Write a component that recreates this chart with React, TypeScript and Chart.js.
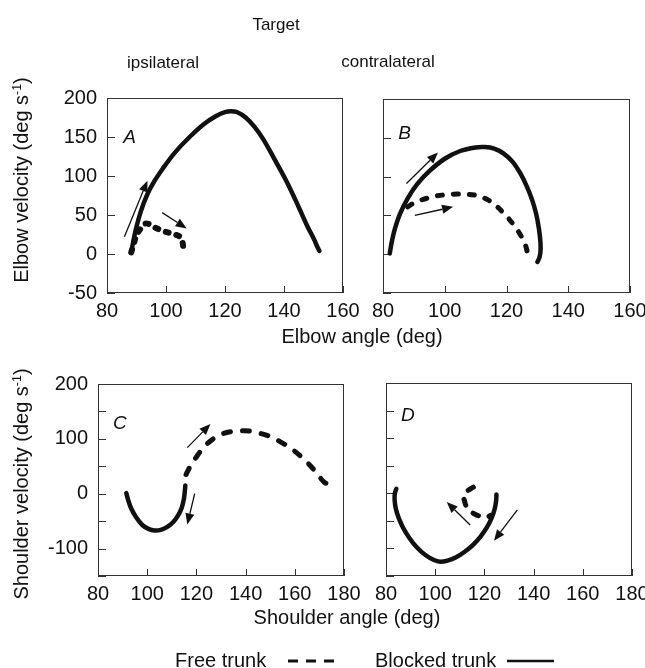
import React, { useEffect, useRef } from 'react';
import { Chart, registerables } from 'chart.js';
Chart.register(...registerables);

const FONT = "'Liberation Sans', Arial, Helvetica, sans-serif";
const INK = '#111';

// ---------- tick values ----------
const elbowAngleTicks = [80, 100, 120, 140, 160];
const shoulderAngleTicks = [80, 100, 120, 140, 160, 180];
const elbowVelTicks = [-50, 0, 50, 100, 150, 200];
const elbowVelLabels = [-50, 0, 50, 100, 150, 200];
const shoulderVelTicks = [-150, -100, -50, 0, 50, 100, 150, 200];
const shoulderVelLabels = [-100, 0, 100, 200];

// ---------- Panel A (elbow, ipsilateral) ----------
const aBlockedAngle = [88.2, 88.8, 89.8, 91.5, 93.5, 96, 99, 103, 108, 113, 117, 120, 122, 124, 127, 130, 133, 137, 141, 145, 148, 150.3, 151.2, 152];
const aBlockedVel = [2, 14, 32, 55, 75, 93, 110, 130, 150, 167, 177, 182, 183, 182, 175, 163, 147, 120, 92, 60, 35, 18, 10, 4];
const aFreeAngle = [88.2, 89, 90, 91.5, 93, 94.5, 96.5, 99, 102.5, 104.8, 105.6, 105.9];
const aFreeVel = [2, 12, 24, 33, 39, 38, 33.5, 29.5, 25.5, 22, 15.5, 5];
const aArrowFrom = [[85.9, 22], [98.7, 53]];
const aArrowTo = [[93.7, 94], [107, 32.6]];

// ---------- Panel B (elbow, contralateral) ----------
const bBlockedAngle = [82.2, 82.8, 83.8, 85.5, 88, 91, 95, 100, 105, 110, 113, 116, 119, 122, 124.5, 126.5, 128.3, 129.6, 130.5, 131, 131, 130.6, 130];
const bBlockedVel = [1, 15, 32, 52, 72, 90, 107, 123, 133, 137.5, 138, 136, 130, 119, 104, 88, 70, 52, 33, 15, 3, -5, -10];
const bFreeAngle = [88, 90, 92.5, 96, 100, 104, 108, 111, 114, 117, 120, 122.5, 124.5, 126, 126.7, 126.9];
const bFreeVel = [61, 66, 70, 74, 76.5, 77.5, 77, 75, 70, 61, 49, 37, 25, 13, 3, -5];
const bArrowFrom = [[87.6, 91], [90.3, 50]];
const bArrowTo = [[97.8, 131], [102.7, 61]];

// ---------- Panel C (shoulder, ipsilateral) ----------
const cBlockedAngle = [91.5, 92.3, 93.5, 95.5, 98, 100.5, 103, 105.5, 108, 110.5, 112.5, 114, 114.9, 115.3, 115.5];
const cBlockedVel = [1, -12, -27, -43, -57, -64, -67, -66, -61, -52, -40, -26, -10, 5, 15];
const cFreeAngle = [115.8, 117.5, 120, 123, 126.5, 130, 134, 138, 142, 146, 150, 154, 158, 162, 165.5, 168.5, 170.5, 172, 173.5];
const cFreeVel = [35, 50, 67, 85, 99, 108, 113, 114.5, 114, 110, 104, 95, 84, 70, 55, 40, 28, 21, 17];
const cArrowFrom = [[116.3, 84], [119.3, 0]];
const cArrowTo = [[125.7, 127], [116.3, -56]];

// ---------- Panel D (shoulder, contralateral) ----------
const dBlockedAngle = [84.2, 83.6, 83.5, 84, 85.2, 87, 89.5, 92.5, 96, 99.5, 102, 105, 108.5, 112, 115.5, 118.5, 121, 123, 124.2, 124.8, 124.9];
const dBlockedVel = [8, 0, -12, -28, -45, -63, -81, -98, -112, -121, -124, -122, -116, -106, -93, -78, -62, -44, -28, -12, -2];
const dFreeAngle = [115.5, 113, 111.5, 112, 112.8, 114.5, 116.2, 118.5, 120.9, 122.5];
const dFreeVel = [11, 4, -4, -15, -25, -33, -38, -42, -43.6, -40];
const dArrowFrom = [[114.2, -57.6], [133.4, -30]];
const dArrowTo = [[104.7, -16], [123.9, -86]];

const zip = (xs: number[], ys: number[]) => xs.map((x, i) => ({ x, y: ys[i] }));

type PanelCfg = {
  letter: string;
  letterAt: number[];
  plot: { left: number; top: number; right: number; bottom: number };
  xMin: number; xMax: number; xTicks: number[];
  yMin: number; yMax: number; yTicks: number[]; yLabels: number[];
  blocked: { x: number; y: number }[];
  free: { x: number; y: number }[];
  dash: number[];
  freeWidth: number;
  arrowFrom: number[][];
  arrowTo: number[][];
};

const W = 645;
const H = 668;

const panels: PanelCfg[] = [
  {
    letter: 'A', letterAt: [85.5, 149],
    plot: { left: 107, top: 98, right: 343, bottom: 293 },
    xMin: 80, xMax: 160, xTicks: elbowAngleTicks,
    yMin: -50, yMax: 200, yTicks: elbowVelTicks, yLabels: elbowVelLabels,
    blocked: zip(aBlockedAngle, aBlockedVel), free: zip(aFreeAngle, aFreeVel),
    dash: [3, 8], freeWidth: 6,
    arrowFrom: aArrowFrom, arrowTo: aArrowTo,
  },
  {
    letter: 'B', letterAt: [84.9, 155],
    plot: { left: 383, top: 99, right: 630, bottom: 293 },
    xMin: 80, xMax: 160, xTicks: elbowAngleTicks,
    yMin: -50, yMax: 200, yTicks: elbowVelTicks, yLabels: [],
    blocked: zip(bBlockedAngle, bBlockedVel), free: zip(bFreeAngle, bFreeVel),
    dash: [5, 11], freeWidth: 5,
    arrowFrom: bArrowFrom, arrowTo: bArrowTo,
  },
  {
    letter: 'C', letterAt: [86.1, 128],
    plot: { left: 98, top: 384, right: 344, bottom: 576 },
    xMin: 80, xMax: 180, xTicks: shoulderAngleTicks,
    yMin: -150, yMax: 200, yTicks: shoulderVelTicks, yLabels: shoulderVelLabels,
    blocked: zip(cBlockedAngle, cBlockedVel), free: zip(cFreeAngle, cFreeVel),
    dash: [7, 12], freeWidth: 5,
    arrowFrom: cArrowFrom, arrowTo: cArrowTo,
  },
  {
    letter: 'D', letterAt: [86.1, 141],
    plot: { left: 386, top: 383, right: 632, bottom: 576 },
    xMin: 80, xMax: 180, xTicks: shoulderAngleTicks,
    yMin: -150, yMax: 200, yTicks: shoulderVelTicks, yLabels: [],
    blocked: zip(dBlockedAngle, dBlockedVel), free: zip(dFreeAngle, dFreeVel),
    dash: [6, 11], freeWidth: 5,
    arrowFrom: dArrowFrom, arrowTo: dArrowTo,
  },
];

const Y_BOX = 60;
const X_BOX = 40;

function makeDecor(cfg: PanelCfg) {
  return {
    id: 'decor' + cfg.letter,
    beforeDatasetsDraw(chart: any) {
      const { ctx, chartArea: a, scales } = chart;
      const x = scales.x, y = scales.y;
      ctx.save();
      ctx.strokeStyle = '#333';
      ctx.lineWidth = 1;
      ctx.strokeRect(a.left + 0.5, a.top + 0.5, a.right - a.left - 1, a.bottom - a.top - 1);
      ctx.beginPath();
      cfg.xTicks.forEach((v) => {
        const px = Math.round(x.getPixelForValue(v)) + 0.5;
        ctx.moveTo(px, a.bottom);
        ctx.lineTo(px, a.bottom - 7);
      });
      cfg.yTicks.forEach((v) => {
        const py = Math.round(y.getPixelForValue(v)) + 0.5;
        ctx.moveTo(a.left, py);
        ctx.lineTo(a.left + 8, py);
      });
      ctx.stroke();
      ctx.restore();
    },
    afterDatasetsDraw(chart: any) {
      const { ctx, scales } = chart;
      const x = scales.x, y = scales.y;
      ctx.save();
      ctx.strokeStyle = INK;
      ctx.fillStyle = INK;
      ctx.lineWidth = 1.3;
      cfg.arrowFrom.forEach((f, i) => {
        const t = cfg.arrowTo[i];
        const x0 = x.getPixelForValue(f[0]), y0 = y.getPixelForValue(f[1]);
        const x1 = x.getPixelForValue(t[0]), y1 = y.getPixelForValue(t[1]);
        const ang = Math.atan2(y1 - y0, x1 - x0);
        const hl = 11, hw = 4.5;
        const bx = x1 - hl * Math.cos(ang), by = y1 - hl * Math.sin(ang);
        ctx.beginPath();
        ctx.moveTo(x0, y0);
        ctx.lineTo(bx, by);
        ctx.stroke();
        ctx.beginPath();
        ctx.moveTo(x1, y1);
        ctx.lineTo(bx + hw * Math.sin(ang), by - hw * Math.cos(ang));
        ctx.lineTo(bx - hw * Math.sin(ang), by + hw * Math.cos(ang));
        ctx.closePath();
        ctx.fill();
      });
      ctx.font = `italic 19px ${FONT}`;
      ctx.textAlign = 'left';
      ctx.textBaseline = 'middle';
      ctx.fillText(cfg.letter, x.getPixelForValue(cfg.letterAt[0]), y.getPixelForValue(cfg.letterAt[1]));
      ctx.restore();
    },
  };
}

function Panel({ cfg }: { cfg: PanelCfg }) {
  const ref = useRef<HTMLCanvasElement | null>(null);
  useEffect(() => {
    if (!ref.current) return;
    const p = cfg.plot;
    const chart = new Chart(ref.current, {
      type: 'scatter',
      data: {
        datasets: [
          {
            label: 'Free trunk',
            data: cfg.free,
            showLine: true,
            borderColor: INK,
            borderWidth: cfg.freeWidth,
            borderDash: cfg.dash,
            borderCapStyle: 'round',
            borderJoinStyle: 'round',
            pointRadius: 0,
            tension: 0.35,
            fill: false,
          },
          {
            label: 'Blocked trunk',
            data: cfg.blocked,
            showLine: true,
            borderColor: INK,
            borderWidth: 4.5,
            borderCapStyle: 'round',
            borderJoinStyle: 'round',
            pointRadius: 0,
            tension: 0.35,
            fill: false,
          },
        ],
      },
      options: {
        responsive: false,
        animation: false,
        events: [],
        layout: {
          padding: {
            left: p.left - Y_BOX,
            top: p.top,
            right: W - p.right,
            bottom: H - p.bottom - X_BOX,
          },
        },
        plugins: { legend: { display: false }, tooltip: { enabled: false } },
        scales: {
          x: {
            type: 'linear',
            min: cfg.xMin,
            max: cfg.xMax,
            grid: { display: false, drawTicks: false },
            border: { display: false },
            ticks: {
              padding: 6,
              color: INK,
              autoSkip: false,
              maxRotation: 0,
              font: { family: FONT, size: 20 },
              callback: (v: any) => String(v),
            },
            afterBuildTicks: (s: any) => {
              s.ticks = cfg.xTicks.map((v) => ({ value: v }));
            },
            afterFit: (s: any) => {
              s.height = X_BOX;
              s.paddingLeft = 0;
              s.paddingRight = 0;
            },
          },
          y: {
            type: 'linear',
            min: cfg.yMin,
            max: cfg.yMax,
            grid: { display: false, drawTicks: false },
            border: { display: false },
            ticks: {
              padding: 10,
              color: INK,
              autoSkip: false,
              font: { family: FONT, size: 20 },
              callback: (v: any) => (cfg.yLabels.includes(Number(v)) ? String(v) : ''),
            },
            afterBuildTicks: (s: any) => {
              s.ticks = cfg.yTicks.map((v) => ({ value: v }));
            },
            afterFit: (s: any) => {
              s.width = Y_BOX;
              s.paddingTop = 0;
              s.paddingBottom = 0;
            },
          },
        },
      },
      plugins: [makeDecor(cfg)],
    } as any);
    return () => chart.destroy();
  }, [cfg]);
  return (
    <canvas
      ref={ref}
      width={W}
      height={H}
      style={{ position: 'absolute', left: 0, top: 0, width: W, height: H }}
    />
  );
}

function Text({ x, y, size, children, rotate }: { x: number; y: number; size: number; children: any; rotate?: boolean }) {
  return (
    <div
      style={{
        position: 'absolute',
        left: x,
        top: y,
        transform: `translate(-50%, -50%)${rotate ? ' rotate(-90deg)' : ''}`,
        fontSize: size,
        lineHeight: 1,
        whiteSpace: 'nowrap',
        fontFamily: FONT,
        color: INK,
      }}
    >
      {children}
    </div>
  );
}

const sup = <sup style={{ fontSize: '0.62em', verticalAlign: '0.55em', lineHeight: 0 }}>-1</sup>;

export default function App() {
  return (
    <div
      style={{
        position: 'absolute',
        left: 0,
        top: 0,
        width: W,
        height: H,
        background: '#fff',
        overflow: 'hidden',
      }}
    >
      {panels.map((cfg) => (
        <Panel key={cfg.letter} cfg={cfg} />
      ))}
      <Text x={276} y={24} size={17}>Target</Text>
      <Text x={163} y={62} size={17}>ipsilateral</Text>
      <Text x={388} y={61} size={17}>contralateral</Text>
      <Text x={362} y={336} size={20}>Elbow angle (deg)</Text>
      <Text x={347} y={617} size={20}>Shoulder angle (deg)</Text>
      <Text x={21} y={180} size={20} rotate>
        Elbow velocity (deg s{sup})
      </Text>
      <Text x={21} y={484} size={20} rotate>
        Shoulder velocity (deg s{sup})
      </Text>
      <div
        style={{
          position: 'absolute',
          left: 175,
          top: 650,
          fontFamily: FONT,
          fontSize: 20,
          lineHeight: 1,
          color: INK,
          whiteSpace: 'nowrap',
        }}
      >
        Free trunk
      </div>
      <svg style={{ position: 'absolute', left: 288, top: 656 }} width={48} height={10}>
        <line x1={0} y1={5} x2={48} y2={5} stroke={INK} strokeWidth={3} strokeDasharray="10 8" />
      </svg>
      <div
        style={{
          position: 'absolute',
          left: 375,
          top: 650,
          fontFamily: FONT,
          fontSize: 20,
          lineHeight: 1,
          color: INK,
          whiteSpace: 'nowrap',
        }}
      >
        Blocked trunk
      </div>
      <svg style={{ position: 'absolute', left: 507, top: 656 }} width={47} height={10}>
        <line x1={0} y1={5} x2={47} y2={5} stroke={INK} strokeWidth={2.5} />
      </svg>
    </div>
  );
}
